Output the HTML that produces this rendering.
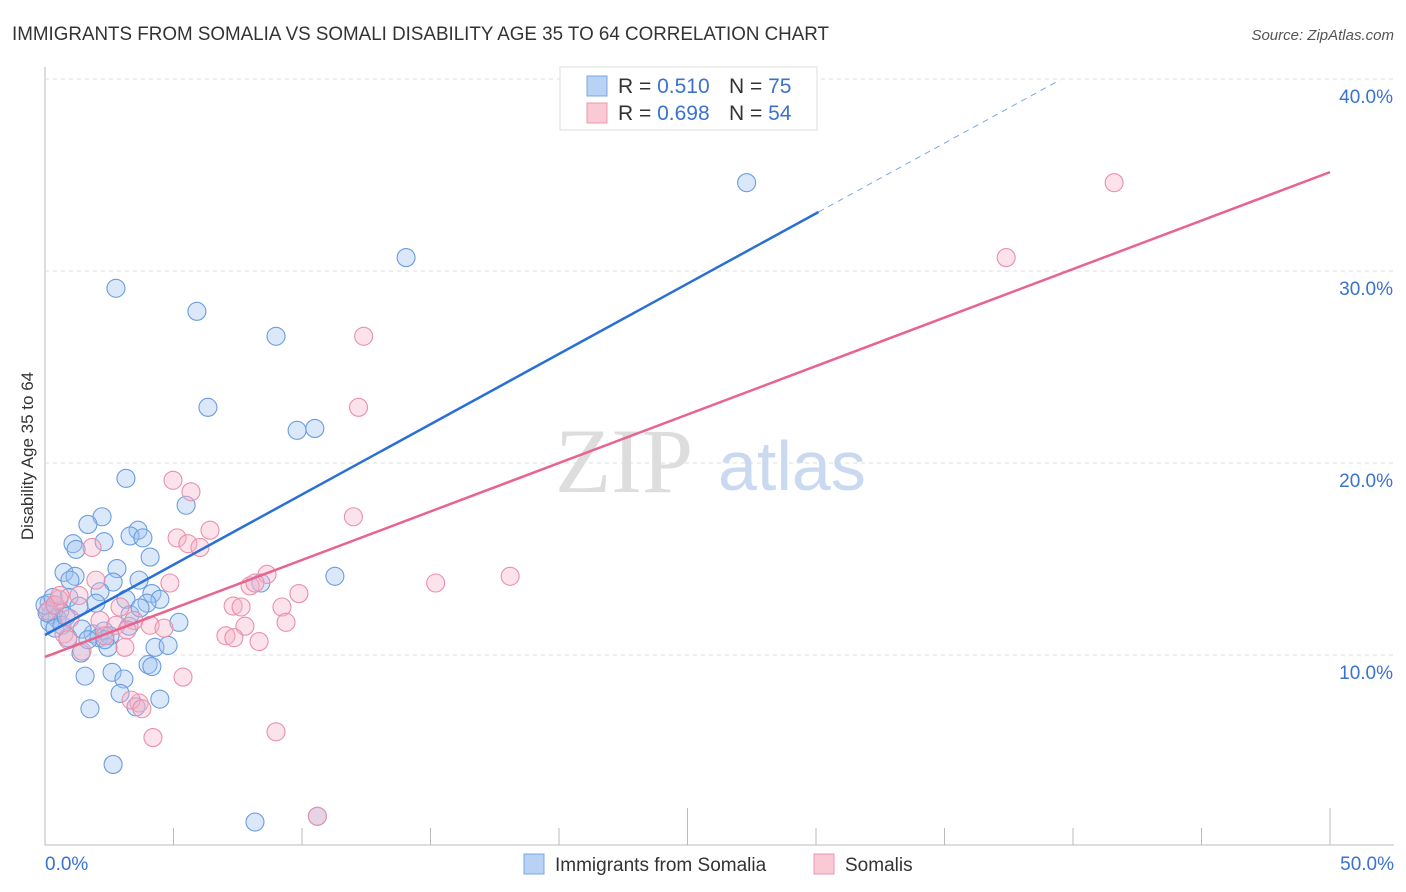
<!DOCTYPE html>
<html><head><meta charset="utf-8"><style>
body{margin:0;background:#fff;font-family:"Liberation Sans",sans-serif;}
svg{display:block}
</style></head><body>
<svg id="chart" width="1406" height="892" font-family="Liberation Sans, sans-serif">
<text x="12" y="40" font-size="19" fill="#333" textLength="817" lengthAdjust="spacingAndGlyphs">IMMIGRANTS FROM SOMALIA VS SOMALI DISABILITY AGE 35 TO 64 CORRELATION CHART</text>
<text x="1394" y="40" font-size="15" fill="#555" font-style="italic" text-anchor="end">Source: ZipAtlas.com</text>
<text x="0" y="0" transform="translate(33,456) rotate(-90)" font-size="17" fill="#333" text-anchor="middle">Disability Age 35 to 64</text>
<g id="grid"></g>
<text x="555" y="492" font-size="92" fill="#ddd" font-family="Liberation Serif, serif">ZIP</text>
<text x="718" y="490" font-size="70" fill="#c9daf0">atlas</text>
<g id="pts"></g>
<g id="lines"></g>
<g>
<rect x="560" y="67" width="257" height="63" fill="#fff" stroke="#ddd"/>
<rect x="587" y="76" width="20" height="20" fill="#b8d2f5" stroke="#7aa7e6"/>
<text x="618" y="93" font-size="21" fill="#333">R = <tspan fill="#3a72d0">0.510</tspan></text>
<text x="729" y="93" font-size="21" fill="#333">N = <tspan fill="#3a72d0">75</tspan></text>
<rect x="587" y="103" width="20" height="20" fill="#f9c9d6" stroke="#ee98b0"/>
<text x="618" y="120" font-size="21" fill="#333">R = <tspan fill="#3a72d0">0.698</tspan></text>
<text x="729" y="120" font-size="21" fill="#333">N = <tspan fill="#3a72d0">54</tspan></text>
</g>
<g>
<rect x="524" y="854" width="20" height="20" fill="#b8d2f5" stroke="#7aa7e6"/>
<text x="555" y="871" font-size="19" fill="#333">Immigrants from Somalia</text>
<rect x="814" y="854" width="20" height="20" fill="#f9c9d6" stroke="#ee98b0"/>
<text x="845" y="871" font-size="19" fill="#333">Somalis</text>
</g>
</svg>
<script>
const xTickLabels=["0.0%","50.0%"];
const yTicks=[10,20,30,40];
const yTickLabels=["10.0%","20.0%","30.0%","40.0%"];
const blueX=[27.3,14.05,2.76,5.91,8.99,6.34,9.81,10.5,3.15,5.49,2.22,1.67,3.62,3.31,3.81,1.09,2.30,1.21,4.09,2.80,0.74,1.17,0.97,3.66,2.65,8.40,11.28,2.14,0.93,3.15,4.16,4.47,3.97,1.98,0.16,0.39,0.58,0.23,0.47,0.19,1.32,5.21,3.27,1.87,2.10,2.30,2.53,0.89,1.44,2.45,4.28,4.79,1.40,4.01,4.16,2.61,1.56,3.07,2.92,4.47,3.54,1.75,2.65,8.17,10.6,0.39,0.08,0.66,1.67,3.31,3.70,2.33,0.0,0.31,0.82];
const blueY=[34.6,30.7,29.1,27.9,26.6,22.9,21.7,21.8,19.2,17.8,17.2,16.8,16.5,16.2,16.1,15.8,15.9,15.5,15.1,14.5,14.3,14.1,13.9,13.9,13.8,13.75,14.1,13.3,13.0,12.9,13.2,12.9,12.7,12.7,12.7,12.6,12.3,12.1,11.9,11.7,12.55,11.7,11.5,11.1,10.9,11.25,11.0,10.9,11.35,10.4,10.4,10.5,10.1,9.5,9.4,9.1,8.9,8.75,8.0,7.7,7.3,7.2,4.3,1.3,1.6,11.4,12.2,11.55,10.8,12.1,12.45,10.8,12.6,13.0,12.0];
const pinkX=[41.6,37.4,12.4,12.2,4.98,5.68,12.0,6.42,5.14,5.56,6.03,1.83,8.64,18.1,15.2,4.86,7.98,8.17,1.98,9.88,7.32,7.63,9.22,0.54,1.32,9.38,7.78,4.09,3.46,2.14,2.76,3.19,4.63,7.04,7.35,8.33,0.74,0.89,3.11,1.44,5.37,8.99,4.20,3.66,3.35,3.77,10.6,0.12,0.39,0.58,2.92,2.33,0.97];
const pinkY=[34.6,30.7,26.6,22.9,19.1,18.5,17.2,16.5,16.1,15.8,15.6,15.6,14.2,14.1,13.75,13.75,13.6,13.75,13.9,13.2,12.55,12.5,12.5,12.9,13.1,11.7,11.5,11.55,11.8,11.8,11.55,11.3,11.4,11.0,10.9,10.7,11.1,10.8,10.4,10.2,8.85,6.0,5.7,7.5,7.65,7.2,1.6,12.3,12.6,13.1,12.5,11.0,11.9];
const blueTrend=[11.04,0.732];
const pinkTrend=[9.9,0.505];
const NS="http://www.w3.org/2000/svg";
const X=v=>45+v*25.7, Y=v=>847-v*19.2;
function mk(t,a,p){const e=document.createElementNS(NS,t);for(const k in a)e.setAttribute(k,a[k]);p.appendChild(e);return e;}
const grid=document.getElementById('grid');
mk('line',{x1:45,y1:67,x2:45,y2:845,stroke:'#bbb'},grid);
mk('line',{x1:45,y1:845,x2:1394,y2:845,stroke:'#bbb'},grid);
for(let i=0;i<=10;i++){const x=45+i*128.5;const l=mk('line',{x1:x,y1:845,x2:x,y2:(i==5||i==10)?808:828,stroke:'#bbb'},grid);

}
yTicks.forEach((v,i)=>{const l=mk('line',{x1:45,y1:Y(v),x2:1394,y2:Y(v),stroke:'#ddd','stroke-dasharray':'4,4'},grid);


const t=mk('text',{x:1393,y:Y(v)+24,'font-size':19,fill:'#3a72d0','text-anchor':'end'},grid);t.textContent=yTickLabels[i];

});
[[45,'start'],[1394,'end']].forEach((p,i)=>{const t=mk('text',{x:p[0],y:870,'font-size':19,fill:'#3a72d0','text-anchor':p[1]},grid);t.textContent=xTickLabels[i];

});
const pts=document.getElementById('pts');
blueX.forEach((x,i)=>{const c=mk('circle',{cx:X(x),cy:Y(blueY[i]),r:9,fill:'rgba(160,195,240,0.38)',stroke:'#6a9de0','stroke-width':1.1},pts);

});
pinkX.forEach((x,i)=>{const c=mk('circle',{cx:X(x),cy:Y(pinkY[i]),r:9,fill:'rgba(248,180,200,0.38)',stroke:'#ea90aa','stroke-width':1.1},pts);

});
const lines=document.getElementById('lines');
const b1=mk('line',{x1:X(0),y1:Y(blueTrend[0]),x2:X(30.1),y2:Y(blueTrend[0]+blueTrend[1]*30.1),stroke:'#2a6fd6','stroke-width':2.5},lines);


const b2=mk('line',{x1:X(30.1),y1:Y(blueTrend[0]+blueTrend[1]*30.1),x2:X(39.5),y2:Y(blueTrend[0]+blueTrend[1]*39.5),stroke:'#7aa7e6','stroke-width':1,'stroke-dasharray':'6,5'},lines);


const p1=mk('line',{x1:X(0),y1:Y(pinkTrend[0]),x2:X(50),y2:Y(pinkTrend[0]+pinkTrend[1]*50),stroke:'#e8638e','stroke-width':2.5},lines);


</script>
</body></html>
